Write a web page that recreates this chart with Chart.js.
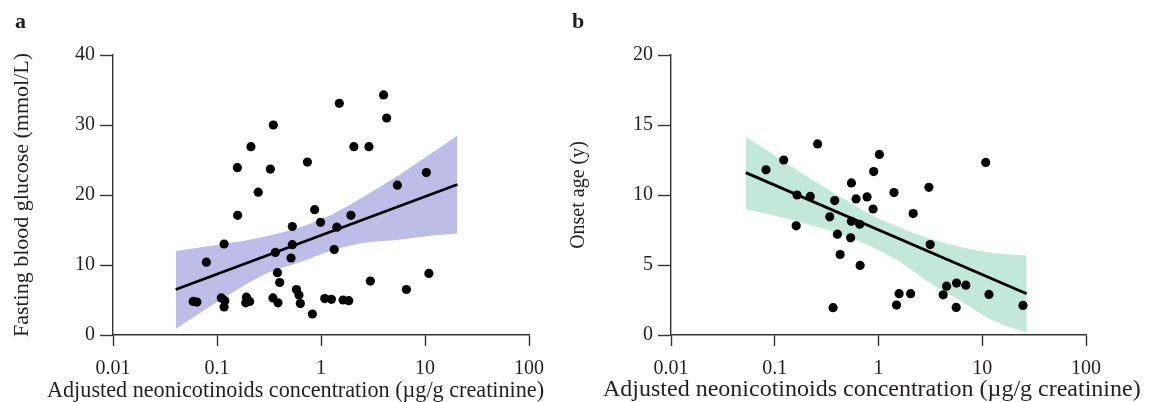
<!DOCTYPE html>
<html><head><meta charset="utf-8">
<script src="https://cdn.jsdelivr.net/npm/chart.js@4.4.1/dist/chart.umd.min.js"></script>
<style>
html,body{margin:0;padding:0;background:#fff;width:1151px;height:402px;overflow:hidden;}
#wrap{position:relative;width:1151px;height:402px;overflow:hidden;}
canvas{position:absolute;top:0;}
.lab{position:absolute;font-family:"Liberation Serif","Times New Roman",serif;font-weight:bold;font-size:22px;line-height:1;color:#231f20;}
</style></head>
<body><div id="wrap">
<canvas id="ca" width="560" height="402" style="left:0"></canvas>
<canvas id="cb" width="591" height="402" style="left:560px"></canvas>
<div class="lab" style="left:15px;top:10px">a</div>
<div class="lab" style="left:572px;top:10px">b</div>
</div>
<script>
// ---------- shared tick data ----------
const xTickValues = [0.01, 0.1, 1, 10, 100];
const xTickLabels = ["0.01", "0.1", "1", "10", "100"];
const xTitle = "Adjusted neonicotinoids concentration (\u00b5g/g creatinine)";

// ---------- panel a ----------
const aTitleY = "Fasting blood glucose (mmol/L)";
const aYTicks = [0, 10, 20, 30, 40];
const aPointsX = [0.059,0.064,0.079,0.117,0.110,0.119,0.117,0.157,0.158,0.192,0.206,0.189,0.212,0.249,
  0.348,0.326,0.364,0.345,0.386,0.381,0.401,0.53,0.53,0.515,0.581,0.614,0.633,0.74,0.869,0.99,0.826,
  1.087,1.26,1.5,1.42,1.34,1.63,1.85,1.94,2.07,2.89,2.98,4.0,4.28,5.42,6.62,10.3,10.9];
const aPointsY = [4.8,4.7,10.4,13.0,5.3,4.9,4.0,23.9,17.1,5.4,4.8,4.6,26.9,20.4,
  30.0,23.7,11.8,5.3,4.6,8.9,7.5,15.5,12.9,11.0,6.5,5.7,4.5,24.7,17.9,16.1,3.0,
  5.2,5.1,33.1,15.4,12.2,5.0,4.9,17.1,26.9,26.9,7.7,34.3,31.0,21.4,6.5,23.2,8.8];
const aFitX = [0.0401, 20.5];
const aFitY = [6.5, 21.5];
const aBandX = [0.0401, 0.0681, 0.1426, 0.298, 0.624, 1.303, 2.73, 5.70, 11.94, 20.5];
const aBandUpper = [12.0, 12.5, 13.2, 14.1, 15.4, 17.3, 20.0, 22.9, 26.1, 28.5];
const aBandLower = [0.86, 3.1, 6.1, 8.8, 10.4, 12.1, 13.2, 13.6, 14.2, 14.5];

// ---------- panel b ----------
const bTitleY = "Onset age (y)";
const bYTicks = [0, 5, 10, 15, 20];
const bPointsX = [0.0824,0.122,0.164,0.161,0.220,0.259,0.339,0.378,0.365,0.402,0.427,0.548,0.548,0.539,
  0.608,0.659,0.665,0.776,0.899,0.887,1.02,1.41,1.49,1.58,2.04,2.16,3.06,3.15,4.2,4.53,5.65,5.61,6.95,
  10.8,11.6,24.7];
const bPointsY = [11.8,12.5,10.0,7.8,9.9,13.65,8.44,9.6,1.95,7.2,5.75,10.86,8.12,6.94,
  9.72,7.91,4.97,9.86,11.67,9.0,12.9,10.17,2.14,2.95,2.95,8.67,10.55,6.46,2.87,3.49,3.71,1.97,3.56,
  12.33,2.9,2.11];
const bFitX = [0.0525, 26.8];
const bFitY = [11.6, 2.95];
const bBandX = [0.0525, 0.0977, 0.205, 0.430, 0.838, 1.63, 2.94, 6.18, 12.97, 26.8];
const bBandUpper = [14.16, 12.87, 11.31, 9.88, 8.60, 7.66, 6.94, 6.29, 5.86, 5.68];
const bBandLower = [8.98, 8.53, 7.93, 7.22, 6.34, 5.20, 3.85, 2.42, 1.00, 0.17];

// ---------- helpers ----------
const FONT = '"Liberation Serif", "Times New Roman", serif';
const AXIS = '#333333';
const TXT = '#231f20';
const zip = (xs, ys) => xs.map((x, i) => ({x: x, y: ys[i]}));

function makeChart(id, o) {
  return new Chart(document.getElementById(id), {
    type: 'line',
    data: {
      datasets: [
        { label: 'points', data: zip(o.px, o.py), showLine: false, order: 0,
          pointRadius: 4.6, pointHoverRadius: 4.6, pointBackgroundColor: '#000', pointBorderWidth: 0, borderWidth: 0 },
        { label: 'fit', data: zip(o.fx, o.fy), order: 1, borderColor: '#000', borderWidth: 2.8,
          pointRadius: 0, fill: false },
        { label: 'upper', data: zip(o.bx, o.bu), order: 2, borderWidth: 0, borderColor: 'rgba(0,0,0,0)',
          pointRadius: 0, fill: '+1', backgroundColor: o.band, cubicInterpolationMode: 'monotone' },
        { label: 'lower', data: zip(o.bx, o.bl), order: 3, borderWidth: 0, borderColor: 'rgba(0,0,0,0)',
          pointRadius: 0, fill: false, cubicInterpolationMode: 'monotone' }
      ]
    },
    options: {
      responsive: false, animation: false, devicePixelRatio: 1,
      layout: { padding: { left: o.titleLeft, top: 55, right: 0, bottom: 0 } },
      plugins: {
        legend: { display: false }, tooltip: { enabled: false },
        title: { display: true, position: 'bottom', align: 'start', text: xTitle, color: TXT,
                 font: { family: FONT, size: o.titleSize, weight: 'normal', lineHeight: 1 },
                 padding: { top: 0, bottom: 0 } }
      },
      scales: {
        x: {
          type: 'logarithmic', min: 0.01, max: 100, offset: false,
          afterBuildTicks: s => { s.ticks = xTickValues.map(v => ({ value: v, major: true })); },
          afterFit: s => { s.height = 67 - o.titleSize; },
          ticks: { autoSkip: false, maxRotation: 0, padding: 11, color: TXT,
                   font: { family: FONT, size: 20 },
                   callback: (v, i) => xTickLabels[i] },
          grid: { drawOnChartArea: false, drawTicks: true, tickLength: 11, color: AXIS, tickWidth: 1.4 },
          border: { display: true, color: AXIS, width: 1.4 }
        },
        y: {
          min: o.yTicks[0], max: o.yTicks[o.yTicks.length - 1],
          afterBuildTicks: s => { s.ticks = o.yTicks.map(v => ({ value: v })); },
          afterFit: s => { s.width = o.axisX - o.titleLeft; },
          ticks: { padding: 5, color: TXT, font: { family: FONT, size: 20 } },
          grid: { drawOnChartArea: false, drawTicks: true, tickLength: 13, color: AXIS, tickWidth: 1.4 },
          border: { display: true, color: AXIS, width: 1.4 },
          title: { display: true, text: o.yTitle, color: TXT, font: { family: FONT, size: o.yTitleSize, lineHeight: 1.2 },
                   padding: { top: o.yTitleCenter - o.titleLeft - o.yTitleSize * 0.6, bottom: 0 } }
        },
        // invisible right-hand spacer so the bottom title box can run past the plot area
        spacer: {
          type: 'linear', position: 'right', display: true,
          ticks: { display: false }, grid: { display: false }, border: { display: false },
          afterFit: s => { s.width = o.padRight; }
        }
      }
    }
  });
}

makeChart('ca', { px: aPointsX, py: aPointsY, fx: aFitX, fy: aFitY, bx: aBandX, bu: aBandUpper, bl: aBandLower,
  band: 'rgb(189,189,232)', yTicks: aYTicks, yTitle: aTitleY, axisX: 113, padRight: 31,
  titleLeft: 47, yTitleCenter: 22, titleSize: 22.2, yTitleSize: 22 });
makeChart('cb', { px: bPointsX, py: bPointsY, fx: bFitX, fy: bFitY, bx: bBandX, bu: bBandUpper, bl: bBandLower,
  band: 'rgb(194,232,218)', yTicks: bYTicks, yTitle: bTitleY, axisX: 111, padRight: 65,
  titleLeft: 43, yTitleCenter: 19, titleSize: 24, yTitleSize: 20 });
</script>
</body></html>
